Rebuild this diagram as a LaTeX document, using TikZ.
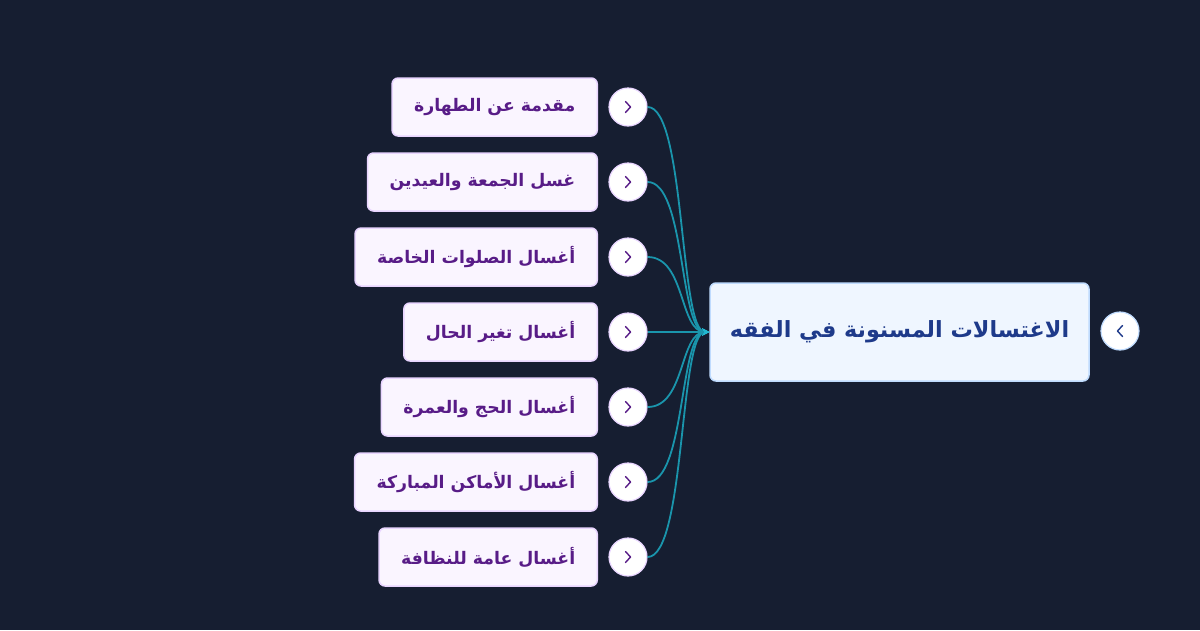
\documentclass[tikz,border=0pt]{standalone}
\usepackage{fontspec}
\newfontfamily\arabicfont[Script=Arabic]{DejaVu Sans}
\TeXXeTstate=1
\usetikzlibrary{arrows.meta}
\definecolor{bgc}{HTML}{161E31}
\definecolor{rootfill}{HTML}{EFF6FF}
\definecolor{rootdraw}{HTML}{BFDBFE}
\definecolor{roottext}{HTML}{1E3A8A}
\definecolor{kidfill}{HTML}{FAF5FF}
\definecolor{kiddraw}{HTML}{E9D5FF}
\definecolor{kidtext}{HTML}{581C87}
\definecolor{edgec}{HTML}{1A95AC}
\definecolor{tipc}{HTML}{22B8D0}
\tikzset{
  rootbox/.style={draw=rootdraw, line width=1.5pt, fill=rootfill, rounded corners=6pt,
    minimum width=379pt, minimum height=98pt, text=roottext,
    font=\arabicfont\bfseries\fontsize{22.3}{27}\selectfont},
  kidbox/.style={draw=kiddraw, line width=1.5pt, fill=kidfill, rounded corners=6pt,
    minimum height=58pt, inner xsep=22pt, anchor=east, text=kidtext,
    font=\arabicfont\bfseries\fontsize{17.3}{21}\selectfont},
  kidcirc/.style={circle, draw=kiddraw, line width=1.2pt, fill=white, minimum size=38pt, inner sep=0pt},
  rootcirc/.style={circle, draw=rootdraw, line width=1.2pt, fill=white, minimum size=38pt, inner sep=0pt},
  chevk/.style={draw=kidtext, line width=1.4pt, line cap=round, line join=round},
  chevr/.style={draw=roottext, line width=1.4pt, line cap=round, line join=round},
  link/.style={draw=edgec, line width=1.8pt, -{Stealth[length=7pt,width=7pt,color=tipc]}}
}
\begin{document}
\begin{tikzpicture}[x=1pt,y=-1pt]
\useasboundingbox (0,0) rectangle (1200,630);
\fill[bgc] (0,0) rectangle (1200,630);

\node[rootbox] (root) at (899.5,332) {\beginR الاغتسالات المسنونة في الفقه\endR};
\node[rootcirc] (rc) at (1120,331) {};
\draw[chevr] (rc.center) ++(2.5,-5.5) -- ++(-5,5.5) -- ++(5,5.5);

\node[kidbox] (k1) at (598,107) {\beginR مقدمة عن الطهارة\endR};
\node[kidbox] (k2) at (598,182) {\beginR غسل الجمعة والعيدين\endR};
\node[kidbox] (k3) at (598,257) {\beginR أغسال الصلوات الخاصة\endR};
\node[kidbox] (k4) at (598,332) {\beginR أغسال تغير الحال\endR};
\node[kidbox] (k5) at (598,407) {\beginR أغسال الحج والعمرة\endR};
\node[kidbox] (k6) at (598,482) {\beginR أغسال الأماكن المباركة\endR};
\node[kidbox] (k7) at (598,557) {\beginR أغسال عامة للنظافة\endR};

\foreach \i/\y in {1/107,2/182,3/257,4/332,5/407,6/482,7/557}{
  \node[kidcirc] (c\i) at (628,\y) {};
  \draw[chevk] (c\i.center) ++(-2.5,-5.5) -- ++(5,5.5) -- ++(-5,5.5);
  \draw[link] (c\i.east) .. controls +(38,0) and +(-30,0) .. (root.west);
}
\end{tikzpicture}
\end{document}
